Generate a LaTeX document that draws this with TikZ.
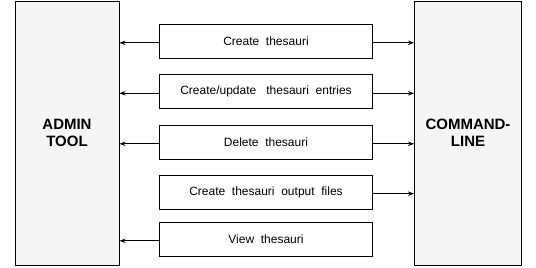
\documentclass[tikz,border=0pt]{standalone}
\usepackage{fontspec}
\setmainfont{Liberation Sans}
\usetikzlibrary{arrows.meta}
\begin{document}
\begin{tikzpicture}[x=1pt,y=-1pt,
  side/.style={draw=black,line width=1pt,fill={rgb,255:red,245;green,245;blue,245},minimum width=#1,minimum height=264pt,inner sep=0pt,font=\fontsize{15}{17}\selectfont\bfseries,align=center},
  op/.style={draw=black,line width=1pt,fill=white,minimum width=213pt,minimum height=34pt,inner sep=0pt,font=\fontsize{12}{14}\selectfont},
  conn/.style={line width=0.8pt,-{Stealth[length=6pt,width=4.5pt]}}]
\useasboundingbox (0,0) rectangle (536,268);
\node[side=104pt] (admin) at (67,133) {ADMIN\\TOOL};
\node[side=107pt] (cmd) at (468,133) {COMMAND-\\LINE};
\node[op] (b1) at (266,41.3) {Create\ \ thesauri};
\node[op] (b2) at (266,91.8) {Create/update\ \ \ thesauri\ \ entries};
\node[op] (b3) at (266,142.3) {Delete\ \ thesauri};
\node[op] (b4) at (266,192.2) {Create\ \ thesauri\ \ output\ \ files};
\node[op] (b5) at (266,239.3) {View\ \ thesauri};
\foreach \b in {b1,b2,b3,b5}{
  \draw[conn] ([yshift=-1.5pt]\b.west) -- ([yshift=-1.5pt]\b.west -| admin.east);
}
\foreach \b in {b1,b2,b3,b4}{
  \draw[conn] ([yshift=-1.5pt]\b.east) -- ([yshift=-1.5pt]\b.east -| cmd.west);
}
\end{tikzpicture}
\end{document}
